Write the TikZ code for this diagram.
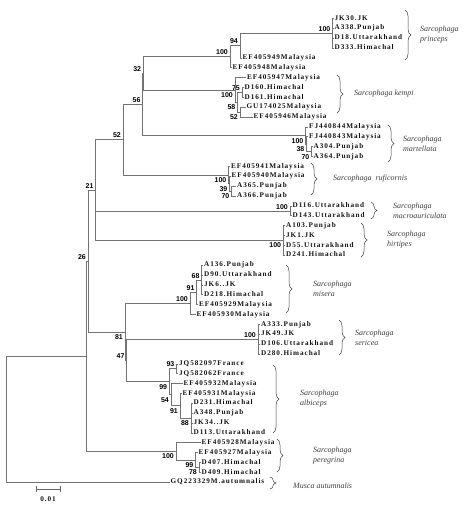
\documentclass[tikz,border=0pt]{standalone}
\usepackage{fontspec}
\usepackage{tikz}
\usetikzlibrary{decorations.pathreplacing}
\usetikzlibrary{positioning}
\newfontfamily\tipfont[LetterSpace=13]{Liberation Serif}
\newfontfamily\bsfont{Liberation Sans}
\newfontfamily\spfont{Liberation Serif}

\begin{document}
\begin{tikzpicture}[x=1pt,y=-1pt]
			\tikzstyle{branch}=[draw=black!55, line width=0.6pt]
			\tikzstyle{tip}=[anchor=west, inner sep=1pt, text height=5pt, text depth=1.5pt, text=black!92, font=\tipfont\bfseries\fontsize{7.2}{8}\selectfont]
			\tikzstyle{bsup}=[anchor=south east, inner sep=0.5pt, xshift=-1.5pt, yshift=1pt, font=\bsfont\bfseries\fontsize{7}{8}\selectfont]
			\tikzstyle{bsdown}=[anchor=north east, inner sep=0.5pt, xshift=-1.5pt, yshift=-2pt, font=\bsfont\bfseries\fontsize{7}{8}\selectfont]
			\tikzstyle{clade}=[decorate, decoration={brace, amplitude=6pt}, draw=black!75, line width=0.5pt]
			\tikzstyle{species}=[anchor=west, align=left, inner sep=0pt, text=black!75, font=\spfont\itshape\fontsize{8}{10}\selectfont]
			\useasboundingbox (0,0) rectangle (472,509);

			\node[tip] at (333.5, 18.3) (jk30) {JK30.JK};
			\node[tip] at (333.5, 28.2) (a338) {A338.Punjab};
			\node[tip] at (333.5, 38.0) (d18) {D18.Uttarakhand};
			\node[tip] at (333.5, 47.9) (d333) {D333.Himachal};
			\node[tip] at (241.5, 57.8) (ef949) {EF405949Malaysia};
			\node[tip] at (231.5, 67.6) (ef948) {EF405948Malaysia};
			\node[tip] at (246, 77.5) (ef947) {EF405947Malaysia};
			\node[tip] at (243.5, 87.4) (d160) {D160.Himachal};
			\node[tip] at (243.5, 97.3) (d161) {D161.Himachal};
			\node[tip] at (245.5, 107.1) (gu025) {GU174025Malaysia};
			\node[tip] at (252.5, 117.0) (ef946) {EF405946Malaysia};
			\node[tip] at (308, 126.9) (fj844) {FJ440844Malaysia};
			\node[tip] at (308, 136.7) (fj843) {FJ440843Malaysia};
			\node[tip] at (312.5, 146.6) (a304) {A304.Punjab};
			\node[tip] at (312.5, 156.5) (a364) {A364.Punjab};
			\node[tip] at (230, 166.4) (ef941) {EF405941Malaysia};
			\node[tip] at (230.5, 176.2) (ef940) {EF405940Malaysia};
			\node[tip] at (236, 186.1) (a365) {A365.Punjab};
			\node[tip] at (236, 196.0) (a366) {A366.Punjab};
			\node[tip] at (291.5, 205.8) (d116) {D116.Uttarakhand};
			\node[tip] at (291.5, 215.7) (d143) {D143.Uttarakhand};
			\node[tip] at (285, 225.6) (a103) {A103.Punjab};
			\node[tip] at (285, 235.4) (jk1) {JK1.JK};
			\node[tip] at (285, 245.3) (d55) {D55.Uttarakhand};
			\node[tip] at (285, 255.2) (d241) {D241.Himachal};
			\node[tip] at (203, 265.1) (a136) {A136.Punjab};
			\node[tip] at (203, 274.9) (d90) {D90.Uttarakhand};
			\node[tip] at (203, 284.8) (jk6) {JK6..JK};
			\node[tip] at (203, 294.7) (d218) {D218.Himachal};
			\node[tip] at (198, 304.5) (ef929) {EF405929Malaysia};
			\node[tip] at (195.5, 314.4) (ef930) {EF405930Malaysia};
			\node[tip] at (260, 324.3) (a333) {A333.Punjab};
			\node[tip] at (260, 334.1) (jk49) {JK49.JK};
			\node[tip] at (260, 344.0) (d106) {D106.Uttarakhand};
			\node[tip] at (260, 353.9) (d280) {D280.Himachal};
			\node[tip] at (178, 363.8) (jq097) {JQ582097France};
			\node[tip] at (178, 373.6) (jq062) {JQ582062France};
			\node[tip] at (182.5, 383.5) (ef932) {EF405932Malaysia};
			\node[tip] at (181.5, 393.4) (ef931) {EF405931Malaysia};
			\node[tip] at (192.5, 403.2) (d231) {D231.Himachal};
			\node[tip] at (192.5, 413.1) (a348) {A348.Punjab};
			\node[tip] at (192.5, 423.0) (jk34) {JK34..JK};
			\node[tip] at (192.5, 432.8) (d113) {D113.Uttarakhand};
			\node[tip] at (200.5, 442.7) (ef928) {EF405928Malaysia};
			\node[tip] at (197.5, 452.6) (ef927) {EF405927Malaysia};
			\node[tip] at (200.5, 462.5) (d407) {D407.Himachal};
			\node[tip] at (200.5, 472.3) (d409) {D409.Himachal};
			\node[tip] at (169.5, 482.2) (gq329) {GQ223329M.autumnalis};

			\coordinate (princepsNode) at (332.5, 33.1);
			\path[branch] (princepsNode) |- (jk30.west) (princepsNode) |- (a338.west) (princepsNode) |- (d18.west) (princepsNode) |- (d333.west);
			\node[bsup] at (princepsNode) (lbPrinceps) {100};
			\coordinate (p94) at (240, 45.4);
			\path[branch] (p94) |- (princepsNode) (p94) |- (ef949.west);
			\node[bsup] at (p94) (lbP94) {94};
			\coordinate (p100) at (230, 56.5);
			\path[branch] (p100) |- (p94) (p100) |- (ef948.west);
			\node[bsup] at (p100) (lbP100) {100};

			\coordinate (k75) at (242, 92.3);
			\path[branch] (k75) |- (d160.west) (k75) |- (d161.west);
			\node[bsup] at (k75) (lbK75) {75};
			\coordinate (k52) at (240, 112.1);
			\path[branch] (k52) |- (gu025.west) (k52) |- (ef946.west);
			\node[bsdown] at (k52) (lbK52) {52};
			\coordinate (k58) at (237.5, 102.2);
			\path[branch] (k58) |- (k75) (k58) |- (k52);
			\node[bsdown] at (k58) (lbK58) {58};
			\coordinate (k100) at (235, 89.9);
			\path[branch] (k100) |- (ef947.west) (k100) |- (k58);
			\node[bsdown] at (k100) (lbK100) {100};

			\coordinate (n32) at (143.3, 73.2);
			\path[branch] (n32) |- (p100) (n32) |- (k100);
			\node[bsup] at (n32) (lbN32) {32};

			\coordinate (m70) at (311.5, 151.5);
			\path[branch] (m70) |- (a304.west) (m70) |- (a364.west);
			\node[bsdown] at (m70) (lbM70) {70};
			\coordinate (m38) at (306.5, 144.1);
			\path[branch] (m38) |- (fj843.west) (m38) |- (m70);
			\node[bsdown] at (m38) (lbM38) {38};
			\coordinate (m100) at (305.5, 135.5);
			\path[branch] (m100) |- (fj844.west) (m100) |- (m38);
			\node[bsdown] at (m100) (lbM100) {100};

			\coordinate (n56) at (142.7, 104.4);
			\path[branch] (n56) |- (n32) (n56) |- (m100);
			\node[bsup] at (n56) (lbN56) {56};

			\coordinate (r70) at (231.5, 191.0);
			\path[branch] (r70) |- (a365.west) (r70) |- (a366.west);
			\node[bsdown] at (r70) (lbR70) {70};
			\coordinate (r39) at (229.5, 183.6);
			\path[branch] (r39) |- (ef940.west) (r39) |- (r70);
			\node[bsdown] at (r39) (lbR39) {39};
			\coordinate (r100) at (228.5, 175.0);
			\path[branch] (r100) |- (ef941.west) (r100) |- (r39);
			\node[bsdown] at (r100) (lbR100) {100};

			\coordinate (n52) at (123, 139.7);
			\path[branch] (n52) |- (n56) (n52) |- (r100);
			\node[bsup] at (n52) (lbN52) {52};

			\coordinate (macroNode) at (290, 210.8);
			\path[branch] (macroNode) |- (d116.west) (macroNode) |- (d143.west);
			\node[bsup] at (macroNode) (lbMacro) {100};
			\coordinate (hirtipesNode) at (283.3, 240.4);
			\path[branch] (hirtipesNode) |- (a103.west) (hirtipesNode) |- (jk1.west) (hirtipesNode) |- (d55.west) (hirtipesNode) |- (d241.west);
			\node[bsdown] at (hirtipesNode) (lbHirtipes) {100};

			\coordinate (n21) at (95.7, 190.0);
			\path[branch] (n21) |- (n52) (n21) |- (macroNode) (n21) |- (hirtipesNode);
			\node[bsup] at (n21) (lbN21) {21};

			\coordinate (s68) at (201.7, 279.9);
			\path[branch] (s68) |- (a136.west) (s68) |- (d90.west) (s68) |- (jk6.west) (s68) |- (d218.west);
			\node[bsup] at (s68) (lbS68) {68};
			\coordinate (s91) at (196.7, 292.2);
			\path[branch] (s91) |- (s68) (s91) |- (ef929.west);
			\node[bsup] at (s91) (lbS91) {91};
			\coordinate (s100) at (190, 303.3);
			\path[branch] (s100) |- (s91) (s100) |- (ef930.west);
			\node[bsup] at (s100) (lbS100) {100};

			\coordinate (sericeaNode) at (258, 339.1);
			\path[branch] (sericeaNode) |- (a333.west) (sericeaNode) |- (jk49.west) (sericeaNode) |- (d106.west) (sericeaNode) |- (d280.west);
			\node[bsup] at (sericeaNode) (lbSericea) {100};

			\coordinate (b93) at (176.5, 368.7);
			\path[branch] (b93) |- (jq097.west) (b93) |- (jq062.west);
			\node[bsup] at (b93) (lbB93) {93};
			\coordinate (b88) at (191, 418.0);
			\path[branch] (b88) |- (d231.west) (b88) |- (a348.west) (b88) |- (jk34.west) (b88) |- (d113.west);
			\node[bsdown] at (b88) (lbB88) {88};
			\coordinate (b91) at (180, 405.7);
			\path[branch] (b91) |- (ef931.west) (b91) |- (b88);
			\node[bsdown] at (b91) (lbB91) {91};
			\coordinate (b54) at (171, 394.6);
			\path[branch] (b54) |- (ef932.west) (b54) |- (b91);
			\node[bsdown] at (b54) (lbB54) {54};
			\coordinate (b99) at (169.3, 381.7);
			\path[branch] (b99) |- (b93) (b99) |- (b54);
			\node[bsdown] at (b99) (lbB99) {99};

			\coordinate (n47) at (126.7, 360.4);
			\path[branch] (n47) |- (sericeaNode) (n47) |- (b99);
			\node[bsup] at (n47) (lbN47) {47};
			\coordinate (n81) at (125, 331.8);
			\path[branch] (n81) |- (s100) (n81) |- (n47);
			\node[bsdown] at (n81) (lbN81) {81};
			\coordinate (n26) at (88, 261.0);
			\path[branch] (n26) |- (n21) (n26) |- (n81);
			\node[bsup] at (n26) (lbN26) {26};

			\coordinate (g78) at (199, 467.4);
			\path[branch] (g78) |- (d407.west) (g78) |- (d409.west);
			\node[bsdown] at (g78) (lbG78) {78};
			\coordinate (g99) at (195.5, 460.0);
			\path[branch] (g99) |- (ef927.west) (g99) |- (g78);
			\node[bsdown] at (g99) (lbG99) {99};
			\coordinate (g100) at (176, 451.4);
			\path[branch] (g100) |- (ef928.west) (g100) |- (g99);
			\node[bsdown] at (g100) (lbG100) {100};

			\coordinate (n86) at (86, 356.2);
			\path[branch] (n86) |- (n26) (n86) |- (g100);
			\coordinate (rootNode) at (6.3, 419.2);
			\path[branch] (rootNode) |- (n86) (rootNode) |- (gq329.west);

			\draw[clade] (405, 10) -- (405, 60);
			\node[species] at (420, 35) (princepsLabel) {Sarcophaga\\princeps};
			\draw[clade] (337, 75) -- (337, 113);
			\node[species] at (354, 94) (kempiLabel) {Sarcophaga kempi};
			\draw[clade] (388, 125) -- (388, 162);
			\node[species] at (403, 143.5) (martellataLabel) {Sarcophaga\\martellata};
			\draw[clade] (311, 163) -- (311, 195);
			\node[species] at (333, 179) (ruficornisLabel) {Sarcophaga\ \ ruficornis};
			\draw[clade] (371, 202) -- (371, 219);
			\node[species] at (393, 210.5) (macroLabel) {Sarcophaga\\macroauriculata};
			\draw[clade] (361, 223) -- (361, 257);
			\node[species] at (387, 240) (hirtipesLabel) {Sarcophaga\\hirtipes};
			\draw[clade] (286, 265) -- (286, 313);
			\node[species] at (313, 289) (miseraLabel) {Sarcophaga\\misera};
			\draw[clade] (339, 320) -- (339, 355);
			\node[species] at (355, 337.5) (sericeaLabel) {Sarcophaga\\sericea};
			\draw[clade] (273, 365) -- (273, 433);
			\node[species] at (300, 399) (albicepsLabel) {Sarcophaga\\albiceps};
			\draw[clade] (277, 439) -- (277, 472);
			\node[species] at (313, 455.5) (peregrinaLabel) {Sarcophaga\\peregrina};
			\draw[clade] (270, 477) -- (270, 489);
			\node[species] at (293, 486) (muscaLabel) {Musca autumnalis};

			\coordinate (scaleLeft) at (36, 489);
			\coordinate (scaleRight) at (60, 489);
			\draw[draw=black!60, line width=0.5pt, |-|] (scaleLeft) -- (scaleRight);
			\node[tip, anchor=center] at (48, 500) (scaleLabel) {0.01};
		\end{tikzpicture}
\end{document}
